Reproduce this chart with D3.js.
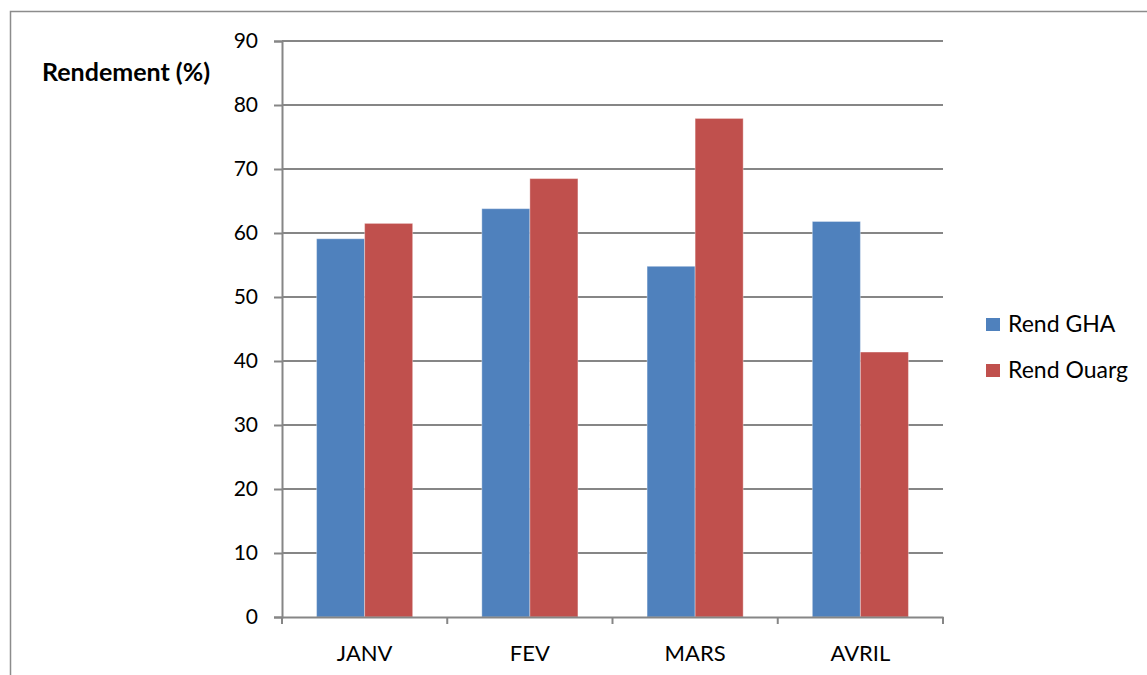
<!DOCTYPE html>
<html>
<head>
<meta charset="utf-8">
<script src="https://cdn.jsdelivr.net/npm/d3@7"></script>
<style>
  html, body { margin: 0; padding: 0; background: #fff; }
  svg { display: block; }
  text { font-family: Lato, "Open Sans", sans-serif; fill: #000; }
</style>
</head>
<body>
<svg id="chart" width="1147" height="675"></svg>
<script>
// Monthly yield (%) for the two sites
const months = ["JANV", "FEV", "MARS", "AVRIL"];
const seriesNames = ["Rend GHA", "Rend Ouarg"];
const rendGHA = [59.1, 63.8, 54.8, 61.8];
const rendOuarg = [61.5, 68.5, 77.9, 41.4];
const yTicks = [0, 10, 20, 30, 40, 50, 60, 70, 80, 90];
const colors = ["#4F81BD", "#C0504D"];

const svg = d3.select("#chart");
const W = 1147, H = 675;

// outer chart frame (runs past the right and bottom edges)
svg.append("rect")
  .attr("x", 10.5).attr("y", 11.5)
  .attr("width", W).attr("height", H)
  .attr("fill", "none").attr("stroke", "#8c8c8c").attr("stroke-width", 1.5);

const plot = { left: 282, right: 943, top: 41, bottom: 617 };

const x = d3.scaleBand().domain(months).range([plot.left, plot.right]);
const x1 = d3.scaleBand().domain(seriesNames)
  .range([0, x.bandwidth()]).paddingOuter(0.72).paddingInner(0);
const y = d3.scaleLinear().domain([0, 90]).range([plot.bottom, plot.top]);

// horizontal gridlines
svg.append("g").selectAll("line").data(yTicks.filter(d => d > 0)).join("line")
  .attr("x1", plot.left).attr("x2", plot.right)
  .attr("y1", d => y(d)).attr("y2", d => y(d))
  .attr("stroke", "#868686").attr("stroke-width", 2);

// bars
const rows = months.map((m, i) => ({ month: m, values: [rendGHA[i], rendOuarg[i]] }));
svg.append("g").selectAll("g").data(rows).join("g")
  .attr("transform", d => `translate(${x(d.month)},0)`)
  .selectAll("rect").data(d => d.values.map((v, j) => ({ name: seriesNames[j], v, j })))
  .join("rect")
  .attr("x", d => x1(d.name))
  .attr("y", d => y(d.v))
  .attr("width", x1.bandwidth())
  .attr("height", d => y(0) - y(d.v))
  .attr("fill", d => colors[d.j])
  .attr("stroke", "rgba(255,255,255,0.35)")
  .attr("stroke-width", 1);

// y axis
const yAxis = svg.append("g")
  .attr("transform", `translate(${plot.left},0)`)
  .call(d3.axisLeft(y).tickValues(yTicks).tickSize(8).tickPadding(16).tickFormat(d3.format("d")));
yAxis.select(".domain").attr("stroke", "#868686").attr("stroke-width", 2);
yAxis.selectAll(".tick line").attr("stroke", "#868686").attr("stroke-width", 2);
yAxis.selectAll(".tick text").style("font-size", "21px").attr("fill", "#000")
  .style("font-family", "Lato, sans-serif");

// x axis
const xAxis = svg.append("g")
  .attr("transform", `translate(0,${plot.bottom})`)
  .call(d3.axisBottom(x).tickSize(0).tickPadding(28));
xAxis.select(".domain").attr("stroke", "#868686").attr("stroke-width", 2);
xAxis.selectAll(".tick text").style("font-size", "22px").attr("fill", "#000")
  .style("font-family", "Lato, sans-serif");
// category boundary ticks
const bounds = months.map(m => x(m)).concat([plot.right]);
svg.append("g").selectAll("line").data(bounds).join("line")
  .attr("x1", d => d).attr("x2", d => d)
  .attr("y1", plot.bottom).attr("y2", plot.bottom + 7)
  .attr("stroke", "#868686").attr("stroke-width", 2);

// axis title
svg.append("text")
  .attr("x", 42).attr("y", 81)
  .style("font-size", "25px").style("font-weight", "bold")
  .text("Rendement (%)");

// legend
const legend = svg.append("g").selectAll("g").data(seriesNames).join("g")
  .attr("transform", (d, i) => `translate(986,${318 + i * 46})`);
legend.append("rect").attr("width", 14).attr("height", 13)
  .attr("fill", (d, i) => colors[i]);
legend.append("text").attr("x", 22).attr("y", 14)
  .style("font-size", "23px").text(d => d);
</script>
</body>
</html>
